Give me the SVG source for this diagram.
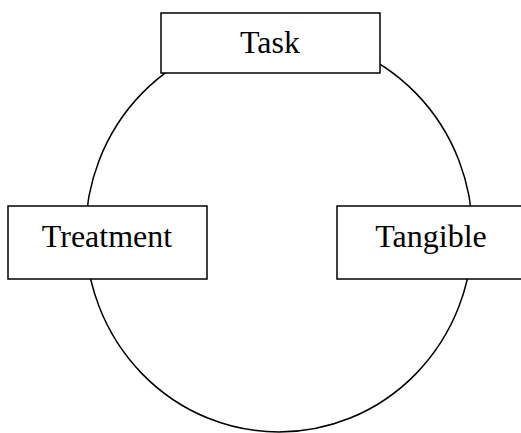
<svg xmlns="http://www.w3.org/2000/svg" width="521" height="433" viewBox="0 0 521 433">
  <style>
    .ring { fill: none; stroke: #000; stroke-width: 1.5; }
    .box { fill: #fff; stroke: #000; stroke-width: 1.5; }
    .label { font-family: "Liberation Serif", "Times New Roman", serif; font-size: 32px; fill: #000; text-anchor: middle; }
  </style>
  <rect width="521" height="433" fill="#fff"/>
  <g id="connectors">
    <ellipse class="ring" cx="279" cy="233.5" rx="193.5" ry="198.5"/>
  </g>
  <g id="task">
    <rect class="box" x="161" y="13" width="219" height="60"/>
    <text class="label" x="270" y="52.5">Task</text>
  </g>
  <g id="treatment">
    <rect class="box" x="8" y="206" width="199" height="73"/>
    <text class="label" x="107" y="246.5">Treatment</text>
  </g>
  <g id="tangible">
    <rect class="box" x="337" y="206" width="200" height="73"/>
    <text class="label" x="431" y="246.5">Tangible</text>
  </g>
</svg>
